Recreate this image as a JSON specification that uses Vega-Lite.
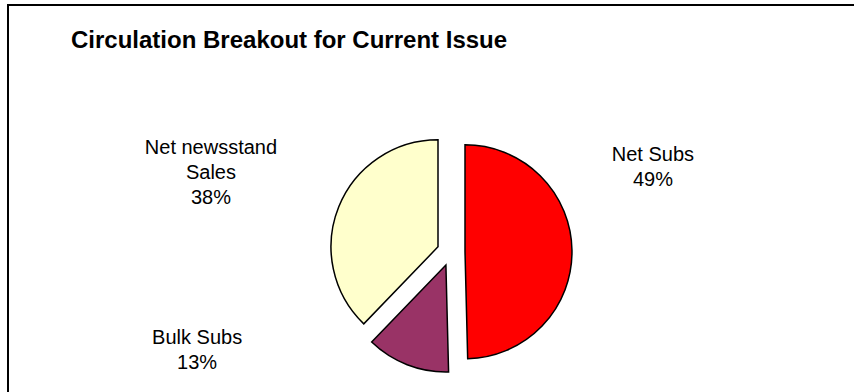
{
  "$schema": "https://vega.github.io/schema/vega-lite/v6.json",
  "width": 846,
  "height": 387,
  "autosize": {"type": "none"},
  "padding": {"left": 8, "top": 5, "right": 0, "bottom": 0},
  "background": "white",
  "view": {"fill": "white", "stroke": "#000000", "strokeWidth": 2, "strokeDash": [846, 1233, 387]},
  "title": {
    "text": "Circulation Breakout for Current Issue",
    "anchor": "start",
    "frame": "group",
    "orient": "top",
    "offset": -48,
    "dx": 63,
    "font": "Liberation Sans",
    "fontSize": 24,
    "fontWeight": "bold",
    "color": "#000000"
  },
  "data": {
    "values": [
      {"cat": "Net Subs", "pct": 49.6, "order": 1, "label": "Net Subs\n49%"},
      {"cat": "Bulk Subs", "pct": 12.6, "order": 2, "label": "Bulk Subs\n13%"},
      {"cat": "Net newsstand Sales", "pct": 37.8, "order": 3, "label": "Net newsstand\nSales\n38%"}
    ]
  },
  "transform": [
    {"stack": "pct", "groupby": [], "sort": [{"field": "order", "order": "ascending"}], "as": ["v0", "v1"]}
  ],
  "layer": [
    {
      "transform": [{"filter": "datum.cat === 'Net Subs'"}],
      "mark": {"type": "arc", "radius": 107, "stroke": "#000000", "strokeWidth": 1.5, "xOffset": 34, "yOffset": 53.3},
      "encoding": {
        "theta": {"field": "v0", "type": "quantitative", "scale": {"domain": [0, 100]}},
        "theta2": {"field": "v1"},
        "color": {"field": "cat", "type": "nominal", "scale": {"domain": ["Net Subs", "Bulk Subs", "Net newsstand Sales"], "range": ["#FF0000", "#993366", "#FFFFCC"]}, "legend": null}
      }
    },
    {
      "transform": [{"filter": "datum.cat === 'Bulk Subs'"}],
      "mark": {"type": "arc", "radius": 107, "stroke": "#000000", "strokeWidth": 1.5, "xOffset": 14.9, "yOffset": 66.5},
      "encoding": {
        "theta": {"field": "v0", "type": "quantitative", "scale": {"domain": [0, 100]}},
        "theta2": {"field": "v1"},
        "color": {"field": "cat", "type": "nominal", "legend": null}
      }
    },
    {
      "transform": [{"filter": "datum.cat === 'Net newsstand Sales'"}],
      "mark": {"type": "arc", "radius": 107, "stroke": "#000000", "strokeWidth": 1.5, "xOffset": 7, "yOffset": 48.3},
      "encoding": {
        "theta": {"field": "v0", "type": "quantitative", "scale": {"domain": [0, 100]}},
        "theta2": {"field": "v1"},
        "color": {"field": "cat", "type": "nominal", "legend": null}
      }
    },
    {
      "transform": [{"filter": "datum.cat === 'Net Subs'"}],
      "mark": {"type": "text", "radius": 224, "thetaOffset": 1.123, "xOffset": 20, "yOffset": 53.5, "font": "Liberation Sans", "fontSize": 20, "lineHeight": 25, "lineBreak": "\n", "align": "center", "baseline": "middle", "color": "#000000"},
      "encoding": {
        "theta": {"field": "v0", "type": "quantitative"},
        "text": {"field": "label"}
      }
    },
    {
      "transform": [{"filter": "datum.cat === 'Bulk Subs'"}],
      "mark": {"type": "text", "radius": 268, "thetaOffset": 1.27, "xOffset": 20, "yOffset": 53.5, "font": "Liberation Sans", "fontSize": 20, "lineHeight": 25, "lineBreak": "\n", "align": "center", "baseline": "middle", "color": "#000000"},
      "encoding": {
        "theta": {"field": "v0", "type": "quantitative"},
        "text": {"field": "label"}
      }
    },
    {
      "transform": [{"filter": "datum.cat === 'Net newsstand Sales'"}],
      "mark": {"type": "text", "radius": 261.6, "thetaOffset": 1.213, "xOffset": 20, "yOffset": 53.5, "font": "Liberation Sans", "fontSize": 20, "lineHeight": 25, "lineBreak": "\n", "align": "center", "baseline": "middle", "color": "#000000"},
      "encoding": {
        "theta": {"field": "v0", "type": "quantitative"},
        "text": {"field": "label"}
      }
    }
  ]
}
